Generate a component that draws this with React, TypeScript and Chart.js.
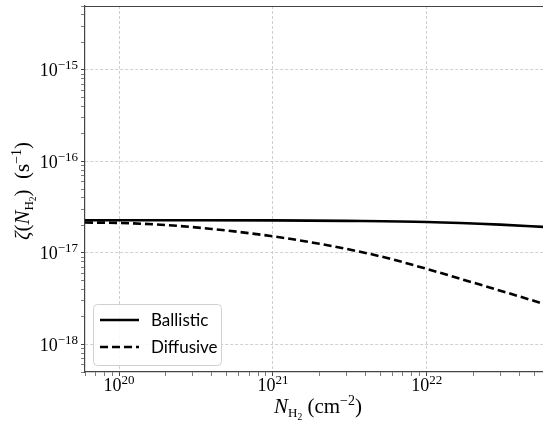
import React, { useEffect, useRef } from 'react';
import { Chart, registerables } from 'chart.js';

Chart.register(...registerables);

// Column density N_H2 (cm^-2) and ionisation rate zeta (s^-1)
const ballisticN = [6e19, 1e20, 3e20, 1e21, 3e21, 1e22, 3e22, 6e22];
const ballisticZeta = [2.28e-17, 2.28e-17, 2.28e-17, 2.27e-17, 2.24e-17, 2.18e-17, 2.04e-17, 1.92e-17];
const diffusiveN = [6e19, 1e20, 2e20, 4e20, 1e21, 2e21, 4e21, 6e21, 1e22, 2e22, 4e22, 6e22];
const diffusiveZeta = [2.15e-17, 2.13e-17, 2.02e-17, 1.83e-17, 1.52e-17, 1.262e-17, 1.0e-17, 8.5e-18, 6.7e-18, 4.75e-18, 3.35e-18, 2.72e-18];
const seriesLabels = ['Ballistic', 'Diffusive'];
const xRange = [6e19, 5.7e22];
const yRange = [5e-19, 5e-15];

const buildLogTicks = (scale: any) => {
  const min = scale.min, max = scale.max;
  const ticks: any[] = [];
  const e0 = Math.floor(Math.log10(min)) - 1;
  const e1 = Math.ceil(Math.log10(max)) + 1;
  for (let e = e0; e <= e1; e++) {
    for (let k = 1; k <= 9; k++) {
      const v = Number(`${k}e${e}`);
      if (v >= min * 0.999999 && v <= max * 1.000001) ticks.push({ value: v, major: k === 1 });
    }
  }
  scale.ticks = ticks;
};

const SERIF = "'Liberation Serif', 'DejaVu Serif', serif";
const SANS = "'Lato', 'DejaVu Sans', sans-serif";

type Seg = { t: string; size: number; dy?: number; italic?: boolean };
const segFont = (s: Seg) => `${s.italic ? 'italic ' : ''}${s.size}px ${SERIF}`;
const richWidth = (ctx: CanvasRenderingContext2D, segs: Seg[]) => {
  let w = 0;
  segs.forEach((s) => { ctx.font = segFont(s); w += ctx.measureText(s.t).width; });
  return w;
};
const drawRich = (ctx: CanvasRenderingContext2D, segs: Seg[], x0: number, y: number, align: 'left' | 'center' | 'right') => {
  const w = richWidth(ctx, segs);
  let x = align === 'left' ? x0 : align === 'center' ? x0 - w / 2 : x0 - w;
  ctx.textBaseline = 'alphabetic';
  ctx.textAlign = 'left';
  segs.forEach((s) => {
    ctx.font = segFont(s);
    ctx.fillText(s.t, x, y + (s.dy || 0));
    x += ctx.measureText(s.t).width;
  });
};
const powSegs = (v: number): Seg[] => {
  const e = Math.round(Math.log10(v));
  return [
    { t: '10', size: 18 },
    { t: String(e).replace('-', '\u2212'), size: 13, dy: -7 },
  ];
};

const decorPlugin = {
  id: 'decor',
  afterDraw(chart: any) {
    const ctx: CanvasRenderingContext2D = chart.ctx;
    const a = chart.chartArea;
    ctx.save();
    // top spine
    ctx.strokeStyle = '#444';
    ctx.lineWidth = 1.2;
    ctx.beginPath();
    ctx.moveTo(a.left, a.top + 0.5);
    ctx.lineTo(a.right, a.top + 0.5);
    ctx.stroke();

    // tick labels (10 with raised exponent)
    ctx.fillStyle = '#000';
    const xs = chart.scales.x, ys = chart.scales.y;
    xs.ticks.forEach((t: any) => {
      if (!t.major) return;
      const px = xs.getPixelForValue(t.value);
      drawRich(ctx, powSegs(t.value), px, a.bottom + 19, 'center');
    });
    ys.ticks.forEach((t: any) => {
      if (!t.major) return;
      const py = ys.getPixelForValue(t.value);
      drawRich(ctx, powSegs(t.value), a.left - 7, py + 6.5, 'right');
    });

    // legend
    const lx = a.left + 8, ly = a.bottom - 68, lw = 128, lh = 61;
    ctx.beginPath();
    ctx.roundRect(lx + 0.5, ly + 0.5, lw, lh, 4);
    ctx.fillStyle = 'rgba(255,255,255,0.85)';
    ctx.fill();
    ctx.strokeStyle = '#d0d0d0';
    ctx.lineWidth = 1;
    ctx.stroke();
    chart.data.datasets.forEach((ds: any, i: number) => {
      const yy = ly + 16 + i * 27;
      ctx.beginPath();
      ctx.setLineDash(ds.borderDash || []);
      ctx.strokeStyle = ds.borderColor;
      ctx.lineWidth = ds.borderWidth;
      ctx.moveTo(lx + 7, yy);
      ctx.lineTo(lx + 46, yy);
      ctx.stroke();
      ctx.setLineDash([]);
      ctx.fillStyle = '#000';
      ctx.font = `17px ${SANS}`;
      ctx.textBaseline = 'middle';
      ctx.textAlign = 'left';
      ctx.fillText(ds.label, lx + 58, yy + 1);
    });

    // axis titles
    ctx.fillStyle = '#000';
    drawRich(ctx, [
      { t: 'N', size: 21, italic: true },
      { t: 'H', size: 13, dy: 4 },
      { t: '2', size: 9.5, dy: 7 },
      { t: ' (cm', size: 21 },
      { t: '\u22122', size: 14, dy: -8 },
      { t: ')', size: 21 },
    ], 318, 413, 'center');

    ctx.translate(29, 191);
    ctx.rotate(-Math.PI / 2);
    drawRich(ctx, [
      { t: '\u03B6', size: 21, italic: true },
      { t: '(', size: 21 },
      { t: 'N', size: 21, italic: true },
      { t: 'H', size: 13, dy: 4 },
      { t: '2', size: 9.5, dy: 7 },
      { t: ')  (s', size: 21 },
      { t: '\u22121', size: 14, dy: -8 },
      { t: ')', size: 21 },
    ], 0, 0, 'center');
    ctx.restore();
  },
};

const gridColor = (c: any) => (c.tick && c.tick.major ? '#c4c4c4' : 'rgba(0,0,0,0)');
const tickWidth = (c: any) => (c.tick && c.tick.major ? 1 : 0.7);

export default function App() {
  const ref = useRef<HTMLCanvasElement>(null);
  useEffect(() => {
    if (!ref.current) return;
    const chart = new Chart(ref.current, {
      type: 'line',
      data: {
        datasets: [
          {
            label: seriesLabels[0],
            data: ballisticN.map((x, i) => ({ x, y: ballisticZeta[i] })),
            borderColor: '#000',
            borderWidth: 2.6,
            pointRadius: 0,
            cubicInterpolationMode: 'monotone',
            fill: false,
          },
          {
            label: seriesLabels[1],
            data: diffusiveN.map((x, i) => ({ x, y: diffusiveZeta[i] })),
            borderColor: '#000',
            borderWidth: 2.6,
            borderDash: [8, 4],
            pointRadius: 0,
            cubicInterpolationMode: 'monotone',
            fill: false,
          },
        ],
      },
      options: {
        animation: false,
        responsive: false,
        devicePixelRatio: 1,
        layout: { padding: { top: 6, left: 0, right: 0, bottom: 0 } },
        plugins: { legend: { display: false }, tooltip: { enabled: false } },
        scales: {
          x: {
            type: 'logarithmic',
            min: xRange[0],
            max: xRange[1],
            afterBuildTicks: buildLogTicks,
            afterFit: (s: any) => { s.height = 49; s.paddingLeft = 0; s.paddingRight = 0; },
            grid: { color: gridColor, lineWidth: 0.8, tickColor: '#444', tickLength: 4, tickWidth },
            border: { color: '#444', width: 1.2, dash: [3, 2] },
            ticks: { autoSkip: false, maxRotation: 0, callback: () => '' },
          },
          y: {
            type: 'logarithmic',
            min: yRange[0],
            max: yRange[1],
            afterBuildTicks: buildLogTicks,
            afterFit: (s: any) => { s.width = 85; s.paddingTop = 0; s.paddingBottom = 0; },
            grid: { color: gridColor, lineWidth: 0.8, tickColor: '#444', tickLength: 4, tickWidth },
            border: { color: '#444', width: 1.2, dash: [3, 2] },
            ticks: { autoSkip: false, callback: () => '' },
          },
        },
      },
      plugins: [decorPlugin],
    } as any);
    return () => chart.destroy();
  }, []);
  return (
    <div style={{ position: 'fixed', left: 0, top: 0, width: 543, height: 421, background: '#fff' }}>
      <canvas ref={ref} width={543} height={421} style={{ width: 543, height: 421, display: 'block' }} />
    </div>
  );
}
